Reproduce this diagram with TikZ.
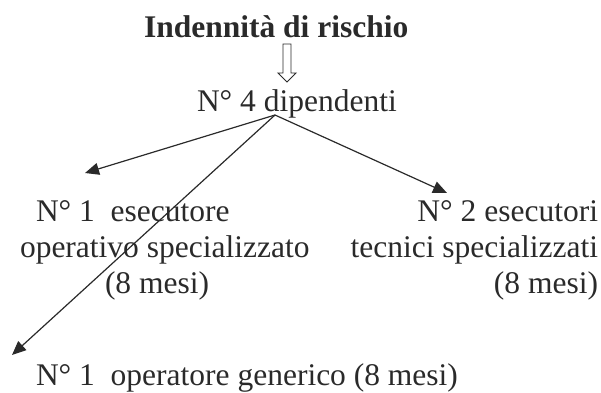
\documentclass[tikz,border=0pt]{standalone}
\usepackage{fontspec}
\setmainfont{Liberation Serif}
\usetikzlibrary{arrows.meta}
\definecolor{ink}{HTML}{2A2A2A}
\tikzset{
  txt/.style={inner sep=0pt, outer sep=0pt, text=ink, font=\fontsize{31.5}{36}\selectfont},
  conn/.style={draw=ink, line width=1.2pt, -{Triangle[length=14pt,width=12pt]}},
  hollow/.style={draw=ink, line width=0.9pt, fill=white, line join=miter}
}
\begin{document}
\begin{tikzpicture}[x=1pt,y=-1pt]
\useasboundingbox (0,0) rectangle (601,392);
% title
\node[txt, anchor=base west, font=\fontsize{31.5}{36}\selectfont\bfseries] (title) at (144,37) {Indennità di rischio};
% hollow arrow
\draw[hollow] (283,44) -- (291,44) -- (291,73) -- (296,73) -- (287,82) -- (278,73) -- (283,73) -- cycle;
% main node
\node[txt, anchor=base west] (main) at (197,111) {N° 4 dipendenti};
\coordinate (src) at (275,115);
% left block
\node[txt, anchor=base west] (l1) at (36,221) {N° 1\ \ esecutore};
\node[txt, anchor=base west] (l2) at (20,257) {operativo specializzato};
\node[txt, anchor=base west] (l3) at (105,293) {(8 mesi)};
% right block
\node[txt, anchor=base east] (r1) at (598,221) {N° 2 esecutori};
\node[txt, anchor=base east] (r2) at (598,257) {tecnici specializzati};
\node[txt, anchor=base east] (r3) at (598,293) {(8 mesi)};
% bottom
\node[txt, anchor=base west] (b1) at (36,385) {N° 1\ \ operatore generico (8 mesi)};
% arrow tips
\coordinate (tl) at (85,173);
\coordinate (tr) at (447,193);
\coordinate (tb) at (12,355);
\draw[conn] (src) -- (tl);
\draw[conn] (src) -- (tr);
\draw[conn] (src) -- (tb);
\end{tikzpicture}
\end{document}
